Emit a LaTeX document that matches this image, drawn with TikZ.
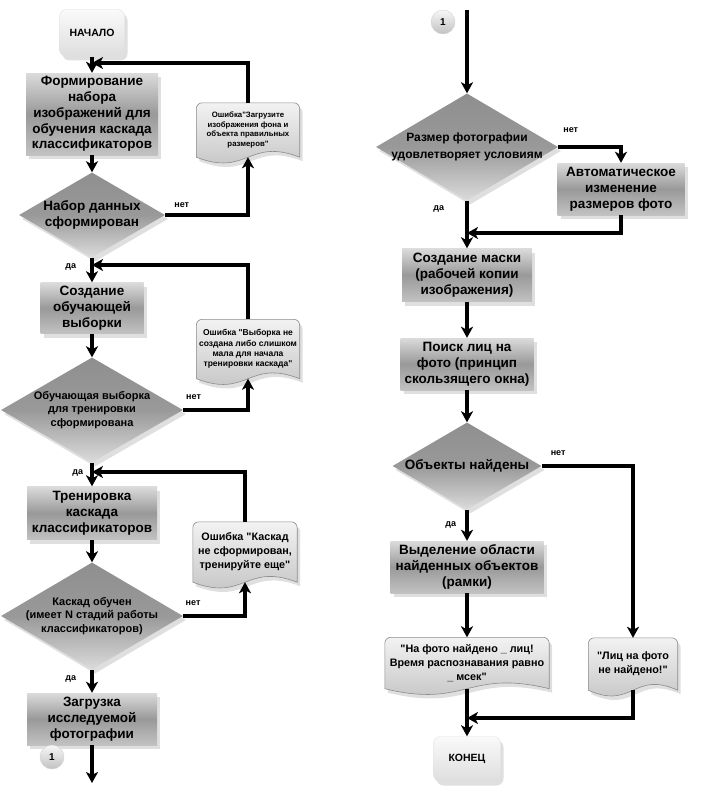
\documentclass[tikz,border=0pt]{standalone}
\usepackage{fontspec}
\setmainfont{Liberation Sans}[Ligatures=TeXOff]
\usetikzlibrary{shapes.geometric,arrows.meta,shadows,calc,backgrounds}

\tikzset{
  arr/.style={line width=3.6pt, -{Stealth[length=11pt,width=12pt,inset=3pt]}},
  soft shadow/.style={drop shadow={opacity=0.25,shadow xshift=3pt,shadow yshift=-4pt}},
  procbox/.style={rectangle, top color=black!14, bottom color=black!24, middle color=black!40,
    soft shadow, align=center, inner sep=1pt,
    font=\bfseries\fontsize{13.5}{15.8}\selectfont},
  decision/.style={diamond, shape aspect=1.7, top color=black!44, bottom color=black!14,
    middle color=black!40, soft shadow, align=center, inner xsep=-12pt, inner ysep=-2pt,
    font=\bfseries\fontsize{13.5}{15.8}\selectfont},
  terminal/.style={rectangle, rounded corners=7pt, top color=black!2, bottom color=black!13,
    draw=black!12, soft shadow, font=\bfseries\fontsize{10.5}{12}\selectfont},
  note/.style={rectangle, align=center, inner sep=0pt},
  notepaint/.style={top color=black!5, bottom color=black!25, draw=black!45, line width=0.6pt, soft shadow},
  conn/.style={circle, top color=black!3, bottom color=black!24, draw=black!18, minimum size=24pt,
    inner sep=0pt, font=\bfseries\fontsize{10}{12}\selectfont},
  lbl/.style={font=\bfseries\fontsize{9}{10}\selectfont, inner sep=0pt}
}

\begin{document}
\begin{tikzpicture}[x=1pt,y=-1pt]
\useasboundingbox (0,0) rectangle (702,800);

% left column
\node[terminal, minimum width=65pt, minimum height=47pt] (start) at (92,33) {НАЧАЛО};
\node[procbox, minimum width=132pt, minimum height=82pt] (form) at (92,114)
  {Формирование\\набора\\изображений для\\обучения каскада\\классификаторов};
\node[decision, minimum width=146pt, minimum height=85pt] (d1) at (92,215)
  {Набор данных\\сформирован};
\node[note, minimum width=103pt, minimum height=54pt, font=\bfseries\fontsize{7.8}{9.8}\selectfont] (err1) at (248,130)
  {Ошибка"Загрузите\\изображения фона и\\объекта правильных\\размеров"};
\node[procbox, minimum width=103pt, minimum height=51pt] (create) at (92,308)
  {Создание\\обучающей\\выборки};
\node[decision, minimum width=182pt, minimum height=105pt, font=\bfseries\fontsize{11}{13.8}\selectfont] (d2) at (92,410)
  {Обучающая выборка\\для тренировки\\сформирована};
\node[note, minimum width=103pt, minimum height=59pt, font=\bfseries\fontsize{8.5}{10.3}\selectfont] (err2) at (248,349)
  {Ошибка "Выборка не\\создана либо слишком\\мала для начала\\тренировки каскада"};
\node[procbox, minimum width=130pt, minimum height=53pt] (train) at (92,513)
  {Тренировка\\каскада\\классификаторов};
\node[decision, minimum width=182pt, minimum height=107pt, font=\bfseries\fontsize{11}{13.8}\selectfont] (d3) at (92,616)
  {Каскад обучен\\(имеет N стадий работы\\классификаторов)};
\node[note, minimum width=104pt, minimum height=60pt, font=\bfseries\fontsize{10.8}{14}\selectfont] (err3) at (245,552)
  {Ошибка "Каскад\\не сформирован,\\тренируйте еще"};
\node[procbox, minimum width=130pt, minimum height=52pt] (load) at (92,719)
  {Загрузка\\исследуемой\\фотографии};
\node[conn] (con1) at (52,757) {1};

\coordinate (j1) at (92,63);
\coordinate (j2) at (92,265);
\coordinate (j3) at (92,472);
\coordinate (out1) at (92,783);

% right column
\node[conn] (con2) at (443,22) {1};
\coordinate (in2) at (467,10);
\node[decision, minimum width=182pt, minimum height=107pt, font=\bfseries\fontsize{12}{16.5}\selectfont] (d4) at (467,147)
  {Размер фотографии\\удовлетворяет условиям};
\node[procbox, minimum width=127pt, minimum height=52pt] (auto) at (621,189)
  {Автоматическое\\изменение\\размеров фото};
\node[procbox, minimum width=130pt, minimum height=53pt] (mask) at (467,275)
  {Создание маски\\(рабочей копии\\изображения)};
\node[procbox, minimum width=133pt, minimum height=52pt] (search) at (467,364)
  {Поиск лиц на\\фото (принцип\\скользящего окна)};
\node[decision, minimum width=149pt, minimum height=87pt] (d5) at (467,466)
  {Объекты найдены};
\node[procbox, minimum width=153pt, minimum height=52pt] (sel) at (467,567)
  {Выделение области\\найденных объектов\\(рамки)};
\node[note, minimum width=164pt, minimum height=51pt, font=\bfseries\fontsize{10.8}{14}\selectfont] (res) at (467,663)
  {"На фото найдено \_ лиц!\\Время распознавания равно\\\_ мсек"};
\node[note, minimum width=89pt, minimum height=52pt, font=\bfseries\fontsize{10.8}{14}\selectfont] (none) at (633,664)
  {"Лиц на фото\\не найдено!"};
\node[terminal, minimum width=67pt, minimum height=45pt] (end) at (467,759) {КОНЕЦ};

\coordinate (j4) at (467,233);
\coordinate (j5) at (467,718);

\begin{scope}[on background layer]
  \foreach \n in {err1,err2,err3,res,none}
    \path[notepaint] (\n.south west) [rounded corners=6pt] -- (\n.north west) -- (\n.north east)
      [sharp corners] -- (\n.south east)
      .. controls ($(\n.south)+(0,20pt)$) and ($(\n.south)+(0,-20pt)$) .. (\n.south west) -- cycle;
\end{scope}

% connectors, left
\draw[arr] (start.south) -- (form.north);
\draw[arr] (form.south) -- (d1.north);
\draw[arr] (d1.east) -| node[lbl, pos=0.1, above=6pt] {нет} (err1.south);
\draw[arr] (err1.north) |- (j1);
\draw[arr] (d1.south) -- node[lbl, pos=0.36, left=14pt] {да} (create.north);
\draw[arr] (create.south) -- (d2.north);
\draw[arr] (d2.east) -| node[lbl, pos=0.08, above=9pt] {нет} (err2.south);
\draw[arr] (err2.north) |- (j2);
\draw[arr] (d2.south) -- node[lbl, pos=0.42, left=7pt] {да} (train.north);
\draw[arr] (train.south) -- (d3.north);
\draw[arr] (d3.east) -| node[lbl, pos=0.08, above=9pt] {нет} (err3.south);
\draw[arr] (err3.north) |- (j3);
\draw[arr] (d3.south) -- node[lbl, pos=0.4, left=14pt] {да} (load.north);
\draw[arr] (load.south) -- (out1);

% connectors, right
\draw[arr] (in2) -- (d4.north);
\draw[arr] (d4.east) -| node[lbl, pos=0.1, above=13pt] {нет} (auto.north);
\draw[arr] (auto.south) |- (j4);
\draw[arr] (d4.south) -- node[lbl, pos=0.17, left=21pt] {да} (mask.north);
\draw[arr] (mask.south) -- (search.north);
\draw[arr] (search.south) -- (d5.north);
\draw[arr] (d5.east) -| node[lbl, pos=0.09, above=9pt] {нет} (none.north);
\draw[arr] (d5.south) -- node[lbl, pos=0.48, left=9pt] {да} (sel.north);
\draw[arr] (sel.south) -- (res.north);
\draw[arr] (res.south) -- (end.north);
\draw[arr] (none.south) |- (j5);
\end{tikzpicture}
\end{document}
